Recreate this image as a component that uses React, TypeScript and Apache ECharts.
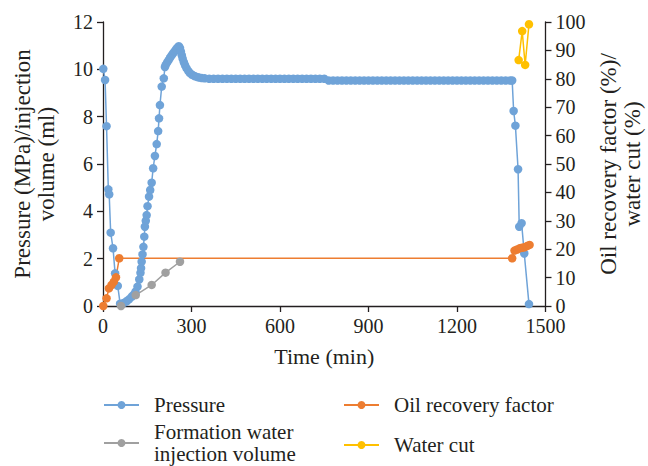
import React, { useEffect, useRef } from "react";
import * as echarts from "echarts";

// Pressure (MPa) vs time (min)
const pressureTime = [
  1, 7, 12, 18, 21, 26, 34, 41, 50, 58,
  65, 72, 80, 88, 97, 104, 110, 117, 123, 127, 129, 131, 134, 137, 140, 142, 145, 148, 151, 156, 160, 165, 170, 176, 182, 187, 190, 193, 199, 206,
  210, 213, 218, 223, 228, 233, 238, 243, 248, 253, 257, 261, 264, 267, 270, 274, 278, 283, 289, 295, 302, 310, 318, 326, 335,
  345, 360, 375, 390, 405, 420, 435, 450, 465, 480, 495, 510, 525, 540, 555, 570, 585, 600, 615, 630, 645, 660, 675, 690, 705, 720, 735, 750,
  765, 780, 795, 810, 825, 840, 855, 870, 885, 900, 915, 930, 945, 960, 975, 990, 1005, 1020, 1035, 1050, 1065, 1080, 1095, 1110, 1125, 1140,
  1155, 1170, 1185, 1200, 1215, 1230, 1245, 1260, 1275, 1290, 1305, 1320, 1335, 1350, 1365, 1380, 1387,
  1392, 1398, 1407, 1411, 1419, 1428, 1444,
];
const pressureValue = [
  10.02, 9.55, 7.6, 4.93, 4.72, 3.1, 2.44, 1.38, 0.85, 0.1,
  0.1, 0.14, 0.2, 0.28, 0.39, 0.48, 0.6, 0.82, 1.12, 1.4, 1.6, 1.87, 2.18, 2.5, 2.93, 3.35, 3.6, 3.84, 4.22, 4.62, 4.9, 5.21, 5.82, 6.34, 6.84, 7.39, 7.93, 8.49, 9.27, 9.62,
  10.1, 10.2, 10.3, 10.4, 10.5, 10.6, 10.68, 10.77, 10.85, 10.93, 10.98, 10.9, 10.75, 10.6, 10.45, 10.3, 10.18, 10.05, 9.93, 9.84, 9.77, 9.72, 9.68, 9.65, 9.63,
  9.62, 9.6, 9.6, 9.6, 9.6, 9.6, 9.6, 9.6, 9.6, 9.6, 9.6, 9.6, 9.6, 9.6, 9.6, 9.6, 9.6, 9.6, 9.6, 9.6, 9.6, 9.6, 9.6, 9.6, 9.6, 9.6, 9.6, 9.6,
  9.53, 9.53, 9.53, 9.53, 9.53, 9.53, 9.53, 9.53, 9.53, 9.53, 9.53, 9.53, 9.53, 9.53, 9.53, 9.53, 9.53, 9.53, 9.53, 9.53, 9.53, 9.53, 9.53, 9.53, 9.53, 9.53,
  9.53, 9.53, 9.53, 9.53, 9.53, 9.53, 9.53, 9.53, 9.53, 9.53, 9.53, 9.53, 9.53, 9.53, 9.53, 9.53, 9.53,
  8.24, 7.62, 5.78, 3.35, 3.5, 2.22, 0.08,
];

// Formation water injection volume (ml)
const injectionTime = [61, 111, 165, 212, 261];
const injectionValue = [0, 0.46, 0.89, 1.41, 1.87];

// Oil recovery factor (%)
const oilTime = [1, 12, 20, 29, 37, 44, 55, 1387, 1395, 1404, 1412, 1420, 1429, 1437, 1446];
const oilValue = [0, 2.7, 6.2, 7.4, 8.6, 10.1, 16.8, 16.8, 19.5, 19.9, 20.3, 20.5, 20.7, 21.1, 21.5];

// Water cut (%)
const waterCutTime = [1409, 1421, 1431, 1444];
const waterCutValue = [86.6, 96.8, 84.9, 99.2];

const xTicks = { min: 0, max: 1500, interval: 300 };
const leftTicks = { min: 0, max: 12, interval: 2 };
const rightTicks = { min: 0, max: 100, interval: 10 };

const pair = (xs: number[], ys: number[]) => xs.map((x, i) => [x, ys[i]]);

const FONT = "Liberation Serif";
const TXT = "#231F20";
const AXIS = "#231F20";

export default function App() {
  const ref = useRef<HTMLDivElement>(null);
  useEffect(() => {
    if (!ref.current) return;
    const chart = echarts.init(ref.current, undefined, { renderer: "svg" });
    const axisCommon = {
      axisLine: { show: true, lineStyle: { color: AXIS, width: 1.3 } },
      axisTick: { show: true, length: 6, lineStyle: { color: AXIS, width: 1.3 } },
      splitLine: { show: false },
      axisLabel: { color: TXT, fontFamily: FONT, fontSize: 20, margin: 10, formatter: (v: number) => String(v) },
    };
    const yNameStyle = { color: TXT, fontFamily: FONT, fontSize: 23, lineHeight: 24 };
    const legendCommon = {
      itemWidth: 35,
      itemHeight: 10,
      padding: 0,
      textStyle: { color: TXT, fontFamily: FONT, fontSize: 21, lineHeight: 22, padding: [0, 0, 0, 10] },
      orient: "vertical" as const,
    };
    const option: any = {
      animation: false,
      textStyle: { fontFamily: FONT },
      grid: { left: 103, right: 102.5, top: 22, bottom: 160, containLabel: false, outerBoundsMode: "none" },
      xAxis: {
        type: "value",
        ...xTicks,
        ...axisCommon,
        name: "Time (min)",
        nameLocation: "middle",
        nameGap: 39,
        nameTextStyle: { color: TXT, fontFamily: FONT, fontSize: 22 },
      },
      yAxis: [
        {
          type: "value",
          ...leftTicks,
          ...axisCommon,
          position: "left",
          name: "Pressure (MPa)/injection\nvolume (ml)",
          nameLocation: "middle",
          nameRotate: 90,
          nameGap: 45,
          nameTextStyle: yNameStyle,
        },
        {
          type: "value",
          ...rightTicks,
          ...axisCommon,
          position: "right",
          name: "Oil recovery factor (%)/\nwater cut (%)",
          nameLocation: "middle",
          nameRotate: 90,
          nameGap: 51,
          nameTextStyle: yNameStyle,
        },
      ],
      legend: [
        { ...legendCommon, data: ["Pressure"], left: 103, top: 394 },
        { ...legendCommon, data: ["Formation water injection volume"], left: 103, top: 421,
          formatter: () => "Formation water\ninjection volume" },
        { ...legendCommon, data: ["Oil recovery factor"], left: 343, top: 394 },
        { ...legendCommon, data: ["Water cut"], left: 343, top: 434 },
      ],
      series: [
        {
          name: "Pressure",
          type: "line",
          yAxisIndex: 0,
          data: pair(pressureTime, pressureValue),
          symbol: "circle",
          symbolSize: 8.5,
          color: "#6FA3D8",
          lineStyle: { width: 1.5, color: "#6FA3D8" },
          itemStyle: { color: "#6FA3D8" },
        },
        {
          name: "Formation water injection volume",
          type: "line",
          yAxisIndex: 0,
          data: pair(injectionTime, injectionValue),
          symbol: "circle",
          symbolSize: 8.5,
          color: "#A0A0A0",
          lineStyle: { width: 1.5, color: "#A0A0A0" },
          itemStyle: { color: "#A0A0A0" },
        },
        {
          name: "Oil recovery factor",
          type: "line",
          yAxisIndex: 1,
          data: pair(oilTime, oilValue),
          symbol: "circle",
          symbolSize: 8.5,
          color: "#ED7D31",
          lineStyle: { width: 1.5, color: "#ED7D31" },
          itemStyle: { color: "#ED7D31" },
        },
        {
          name: "Water cut",
          type: "line",
          yAxisIndex: 1,
          data: pair(waterCutTime, waterCutValue),
          symbol: "circle",
          symbolSize: 8.5,
          color: "#FFC000",
          lineStyle: { width: 1.5, color: "#FFC000" },
          itemStyle: { color: "#FFC000" },
        },
      ],
    };
    chart.setOption(option);
    return () => chart.dispose();
  }, []);
  return <div ref={ref} style={{ width: 648, height: 466, position: "absolute", left: 0, top: 0, background: "#fff" }} />;
}
